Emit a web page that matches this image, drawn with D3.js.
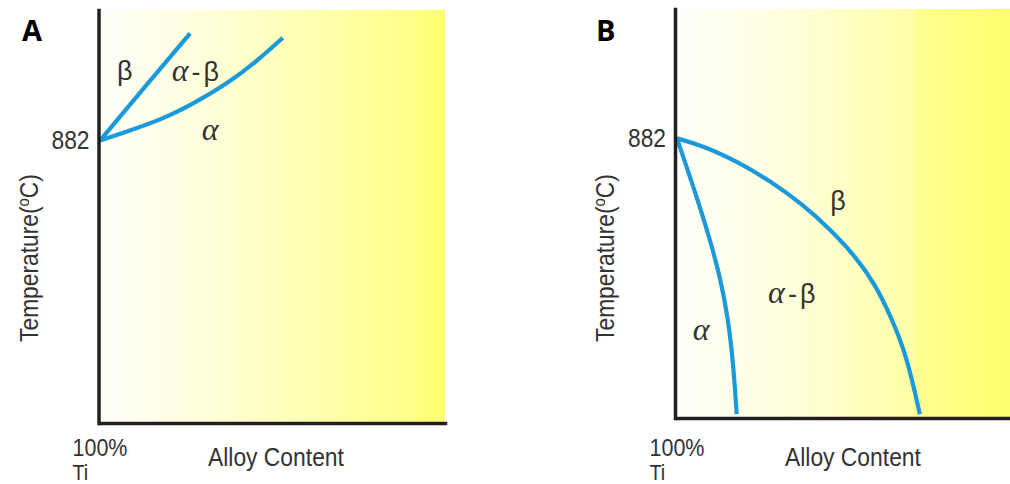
<!DOCTYPE html>
<html><head><meta charset="utf-8">
<script src="https://cdn.jsdelivr.net/npm/d3@7"></script>
<style>body{margin:0;background:#fff} svg{display:block}</style>
</head><body><svg id="c" width="1010" height="484"></svg>
<script>
// ---- data (alloy content %, temperature °C) ----
const panelNames = ["A", "B"];
const tempTicks = [882];
const tempDomain = [0, 1290];
const alloyDomain = [0, 100];
const betaTransusA  = [[0,882],[13,1050],[26.1,1217]];
const alphaTransusA = [[0,882],[8.2,912],[17.9,948],[27.5,1000],[37.1,1062],[44.9,1125],[53,1203]];
const betaTransusB  = [[0,882],[7.6,858],[17.3,810],[27,748],[36.6,672],[44.3,596],[52.1,505],[57.5,420],[62,320],[66.5,200],[70.4,12]];
const alphaTransusB = [[0,882],[5.7,698],[9.6,561],[12.6,440],[14.9,309],[16.4,160],[17.3,12]];
const regionLabelsA = [{t:"β",x:7.2,y:1071},{t:"α-β",x:20.8,y:1068},{t:"α",x:29.5,y:884}];
const regionLabelsB = [{t:"β",x:46.7,y:656},{t:"α-β",x:26.4,y:363},{t:"α",x:4.6,y:246}];
const xTitle = "Alloy Content";
const originLabel = ["100%", "Ti"];

// ---- layout ----
const layouts = [
  {name:panelNames[0], x0:100, x1:445, yb:423, yt:10, axisX:98.5, bgEnd:445,
   stops:[[0,"#fffffa"],[0.3,"#ffffdc"],[0.6,"#ffffb2"],[0.915,"#ffff88"],[0.92,"#ffff7e"],[1,"#ffff6e"]],
   curves:[betaTransusA, alphaTransusA], labels:regionLabelsA, letterX:22, tempX:38},
  {name:panelNames[1], x0:677, x1:1022, yb:418, yt:9, axisX:675, bgEnd:1010,
   stops:[[0,"#fffffa"],[0.35,"#ffffdc"],[0.71,"#ffffa6"],[0.715,"#ffff92"],[1,"#ffff6e"]],
   curves:[betaTransusB, alphaTransusB], labels:regionLabelsB, letterX:596, tempX:614}
];
const svg = d3.select("#c");
const defs = svg.append("defs");
const textCol = "#333", axisCol = "#231f20", lineCol = "#1b9ad9";
const sans = "'Liberation Sans', Arial, sans-serif";

function fit(sel, target){
  const w = sel.node().getComputedTextLength();
  return target / w;
}

layouts.forEach((L, i) => {
  const x = d3.scaleLinear().domain(alloyDomain).range([L.x0, L.x1]);
  const y = d3.scaleLinear().domain(tempDomain).range([L.yb, L.yt]);
  const g = svg.append("g");

  const grad = defs.append("linearGradient").attr("id","bg"+i)
    .attr("gradientUnits","userSpaceOnUse").attr("x1",L.x0).attr("x2",L.bgEnd).attr("y1",0).attr("y2",0);
  L.stops.forEach(s => grad.append("stop").attr("offset",s[0]).attr("stop-color",s[1]));
  g.append("rect").attr("x",x(0)).attr("y",y(tempDomain[1])).attr("width",L.bgEnd - x(0))
    .attr("height",y(0)-y(tempDomain[1])).attr("fill","url(#bg"+i+")");

  // curves
  const line = d3.line().x(d => x(d[0])).y(d => y(d[1])).curve(d3.curveBasis);
  g.selectAll("path.curve").data(L.curves).join("path").attr("class","curve")
    .attr("d", line).attr("fill","none").attr("stroke",lineCol).attr("stroke-width",4.2)
    .attr("stroke-linecap","butt").attr("stroke-linejoin","round");

  // axes
  const ya = g.append("g").attr("transform",`translate(${L.axisX},0)`)
    .call(d3.axisLeft(y).tickValues(tempTicks).tickSize(0).tickSizeOuter(0).tickPadding(9).tickFormat(d3.format("d")));
  ya.select(".domain").attr("stroke",axisCol).attr("stroke-width",3.5).attr("stroke-linecap","square");
  ya.selectAll(".tick text").attr("fill",textCol).style("font-family",sans).style("font-size","26px")
    .each(function(){ const s = d3.select(this); const k = fit(s, 38);
      s.attr("transform",`scale(${k},1)`).attr("x", -9 / k); });
  const xa = g.append("g").attr("transform",`translate(0,${L.yb})`)
    .call(d3.axisBottom(x).tickValues([]).tickSizeOuter(0));
  xa.select(".domain").attr("stroke",axisCol).attr("stroke-width",3.5).attr("stroke-linecap","square");

  // region labels
  L.labels.forEach(lb => {
    const t = g.append("text").attr("x",x(lb.x)).attr("y",y(lb.y)).attr("fill",textCol);
    if (lb.t === "β") {
      t.attr("text-anchor","middle").style("font-family",sans).style("font-size","27px").text("β");
    } else if (lb.t === "α") {
      t.style("font-family","'Liberation Serif', serif").style("font-style","italic").style("font-size","32px").text("α");
    } else {
      t.append("tspan").style("font-family","'Liberation Serif', serif").style("font-style","italic").style("font-size","32px").text("α");
      t.append("tspan").attr("dx",3).style("font-family",sans).style("font-size","27px").text("-");
      t.append("tspan").attr("dx",3).style("font-family",sans).style("font-size","27px").text("β");
    }
  });

  // panel letter
  g.append("text").attr("x",L.letterX).attr("y",41).attr("fill","#000")
    .style("font-family","'Open Sans', sans-serif").style("font-weight","700").style("font-size","29px").text(L.name);

  // temperature title
  const tt = g.append("text").attr("text-anchor","middle").attr("fill",textCol)
    .style("font-family",sans).style("font-size","26px");
  tt.append("tspan").text("Temperature(");
  tt.append("tspan").attr("dy",-9).style("font-size","17px").text("o");
  tt.append("tspan").attr("dy",9).text("C)");
  const kt = fit(tt, 168);
  tt.attr("transform",`translate(${L.tempX},258) rotate(-90) scale(${kt},1)`);

  // x title
  const xt = g.append("text").attr("text-anchor","start").attr("fill",textCol)
    .style("font-family",sans).style("font-size","25px").text(xTitle);
  const kx = fit(xt, 136);
  xt.attr("transform",`translate(${L.x0 + 108},466) scale(${kx},1)`);

  // origin label
  const o1 = g.append("text").attr("text-anchor","middle").attr("fill",textCol)
    .style("font-family",sans).style("font-size","24px").text(originLabel[0]);
  const ko = fit(o1, 55);
  o1.attr("transform",`translate(${x(0)},456) scale(${ko},1)`);
  const o2 = g.append("text").attr("fill",textCol)
    .style("font-family",sans).style("font-size","22px").text(originLabel[1]);
  o2.attr("transform",`translate(${x(0) - 27.5},480) scale(0.9,1)`);
});
</script></body></html>
